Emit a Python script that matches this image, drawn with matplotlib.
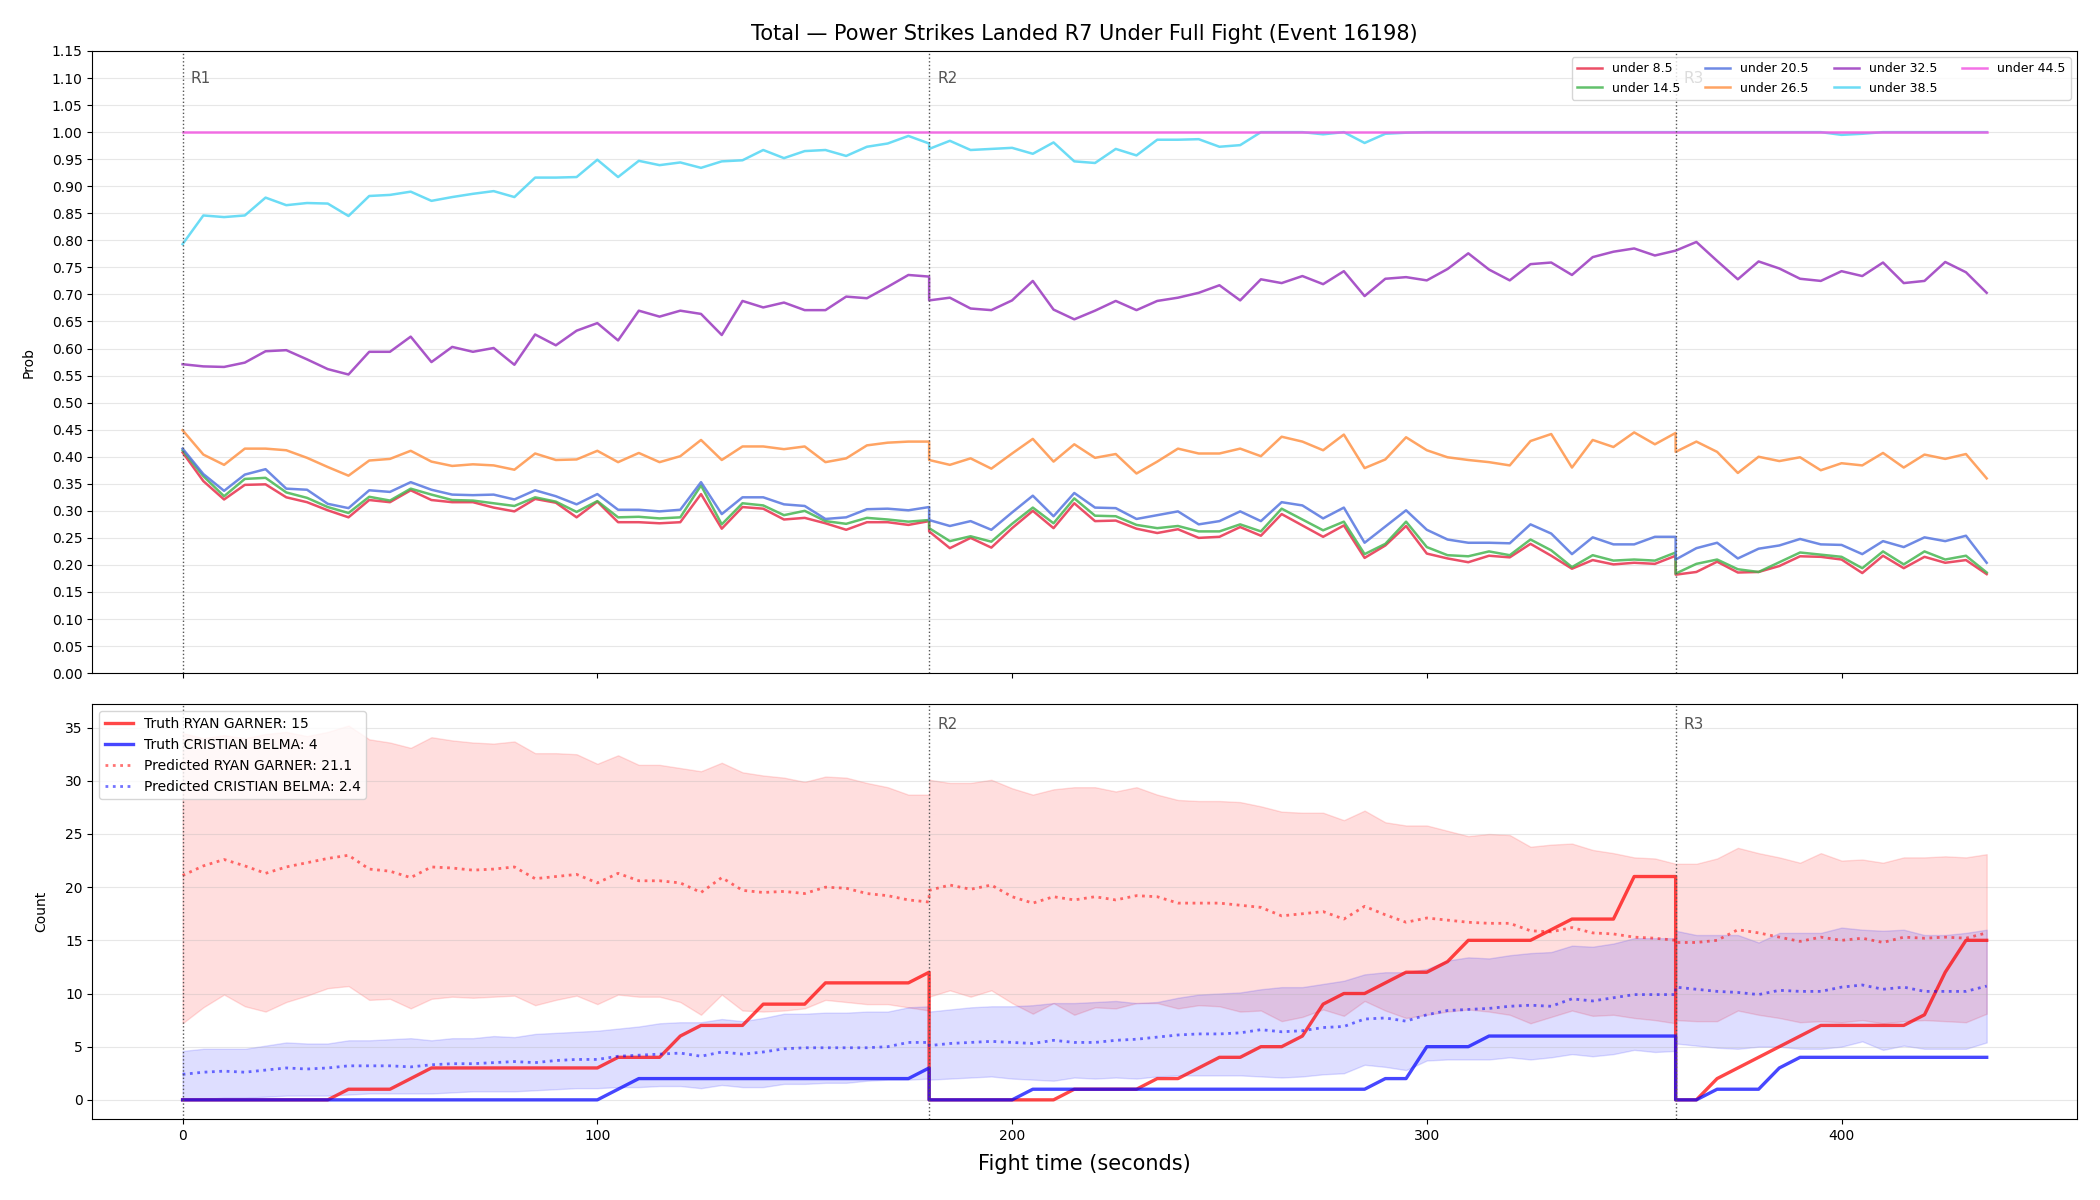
"""Power strikes landed: line probabilities and live count predictions."""

import matplotlib.pyplot as plt
import numpy as np
from matplotlib.ticker import FormatStrFormatter

# Sample times per round (every 5 s, round ends repeat at 180 / 360)
T_R1 = np.arange(0, 181, 5)
T_R2 = np.arange(180, 361, 5)
T_R3 = np.arange(360, 436, 5)
TIME = np.concatenate([T_R1, T_R2, T_R3])

ROUND_STARTS = [0, 180, 360]
ROUND_LABELS = ["R1", "R2", "R3"]

LINE_LABELS = ["under 8.5", "under 14.5", "under 20.5", "under 26.5",
               "under 32.5", "under 38.5", "under 44.5"]
LINE_COLORS = ["#e8304c", "#46b652", "#5676e0", "#ff9448",
               "#9a38bf", "#52d6f4", "#f258e2"]

under_8_5 = [
    0.408, 0.355, 0.321, 0.348, 0.349, 0.325, 0.316, 0.301, 0.288, 0.320, 0.316, 0.338, 0.320,
    0.316, 0.316, 0.306, 0.299, 0.322, 0.315, 0.288, 0.317, 0.279, 0.279, 0.277, 0.279, 0.331,
    0.267, 0.307, 0.304, 0.284, 0.287, 0.277, 0.265, 0.279, 0.279, 0.274, 0.281,
    0.262, 0.231, 0.250, 0.232, 0.268, 0.300, 0.268, 0.314, 0.281, 0.282, 0.267, 0.259, 0.266,
    0.250, 0.252, 0.270, 0.254, 0.294, 0.273, 0.252, 0.273, 0.213, 0.236, 0.272, 0.221, 0.212,
    0.205, 0.217, 0.214, 0.239, 0.217, 0.193, 0.209, 0.201, 0.204, 0.202, 0.217,
    0.182, 0.187, 0.206, 0.186, 0.187, 0.198, 0.216, 0.215, 0.210, 0.185, 0.217, 0.194, 0.215,
    0.204, 0.209, 0.183,
]
under_14_5 = [
    0.412, 0.364, 0.327, 0.359, 0.361, 0.334, 0.324, 0.307, 0.296, 0.326, 0.319, 0.341, 0.330,
    0.320, 0.319, 0.314, 0.309, 0.325, 0.317, 0.298, 0.318, 0.288, 0.289, 0.286, 0.288, 0.347,
    0.275, 0.314, 0.310, 0.292, 0.300, 0.281, 0.276, 0.287, 0.284, 0.280, 0.283,
    0.268, 0.244, 0.253, 0.243, 0.276, 0.306, 0.277, 0.323, 0.291, 0.290, 0.274, 0.268, 0.272,
    0.262, 0.262, 0.275, 0.262, 0.304, 0.284, 0.264, 0.280, 0.220, 0.239, 0.280, 0.233, 0.218,
    0.216, 0.225, 0.218, 0.247, 0.227, 0.196, 0.218, 0.208, 0.210, 0.208, 0.223,
    0.184, 0.202, 0.210, 0.192, 0.187, 0.205, 0.223, 0.219, 0.215, 0.194, 0.225, 0.201, 0.225,
    0.210, 0.217, 0.186,
]
under_20_5 = [
    0.415, 0.368, 0.337, 0.367, 0.377, 0.341, 0.339, 0.313, 0.305, 0.338, 0.335, 0.353, 0.339,
    0.330, 0.329, 0.330, 0.321, 0.338, 0.327, 0.312, 0.331, 0.302, 0.302, 0.299, 0.302, 0.353,
    0.294, 0.325, 0.325, 0.312, 0.309, 0.285, 0.288, 0.303, 0.304, 0.301, 0.307,
    0.283, 0.272, 0.281, 0.265, 0.297, 0.328, 0.290, 0.333, 0.306, 0.305, 0.285, 0.292, 0.299,
    0.275, 0.281, 0.299, 0.281, 0.316, 0.310, 0.286, 0.306, 0.241, 0.271, 0.301, 0.265, 0.247,
    0.241, 0.241, 0.240, 0.275, 0.258, 0.220, 0.251, 0.238, 0.238, 0.252, 0.252,
    0.210, 0.231, 0.241, 0.212, 0.230, 0.236, 0.248, 0.238, 0.237, 0.220, 0.244, 0.233, 0.251,
    0.244, 0.254, 0.204,
]
under_26_5 = [
    0.449, 0.404, 0.385, 0.415, 0.415, 0.412, 0.398, 0.381, 0.365, 0.393, 0.396, 0.411, 0.391,
    0.383, 0.386, 0.384, 0.376, 0.406, 0.394, 0.395, 0.411, 0.390, 0.407, 0.390, 0.401, 0.431,
    0.394, 0.419, 0.419, 0.414, 0.419, 0.390, 0.397, 0.421, 0.426, 0.428, 0.428,
    0.394, 0.385, 0.397, 0.378, 0.406, 0.433, 0.391, 0.423, 0.398, 0.405, 0.369, 0.391, 0.415,
    0.406, 0.406, 0.415, 0.401, 0.437, 0.428, 0.412, 0.441, 0.379, 0.395, 0.436, 0.412, 0.399,
    0.394, 0.390, 0.384, 0.429, 0.442, 0.380, 0.431, 0.418, 0.445, 0.423, 0.444,
    0.409, 0.428, 0.409, 0.370, 0.400, 0.392, 0.399, 0.375, 0.388, 0.384, 0.407, 0.380, 0.404,
    0.396, 0.405, 0.360,
]
under_32_5 = [
    0.571, 0.567, 0.566, 0.574, 0.595, 0.597, 0.580, 0.562, 0.552, 0.594, 0.594, 0.622, 0.575,
    0.603, 0.594, 0.601, 0.570, 0.626, 0.606, 0.633, 0.647, 0.615, 0.670, 0.659, 0.670, 0.664,
    0.625, 0.688, 0.676, 0.685, 0.671, 0.671, 0.696, 0.693, 0.714, 0.736, 0.733,
    0.689, 0.694, 0.674, 0.671, 0.689, 0.725, 0.672, 0.654, 0.670, 0.688, 0.671, 0.688, 0.694,
    0.703, 0.717, 0.689, 0.728, 0.721, 0.734, 0.719, 0.743, 0.697, 0.729, 0.732, 0.726, 0.747,
    0.776, 0.746, 0.726, 0.756, 0.759, 0.736, 0.769, 0.779, 0.785, 0.772, 0.781,
    0.781, 0.797, 0.762, 0.728, 0.761, 0.748, 0.729, 0.725, 0.743, 0.734, 0.759, 0.721, 0.725,
    0.760, 0.741, 0.703,
]
under_38_5 = [
    0.793, 0.846, 0.843, 0.846, 0.879, 0.865, 0.869, 0.868, 0.845, 0.882, 0.884, 0.890, 0.873,
    0.880, 0.886, 0.891, 0.880, 0.916, 0.916, 0.917, 0.949, 0.917, 0.947, 0.939, 0.944, 0.934,
    0.946, 0.948, 0.967, 0.952, 0.965, 0.967, 0.956, 0.973, 0.979, 0.993, 0.979,
    0.969, 0.984, 0.967, 0.969, 0.971, 0.960, 0.981, 0.946, 0.943, 0.969, 0.957, 0.986, 0.986,
    0.987, 0.973, 0.976, 1.000, 1.000, 1.000, 0.996, 1.000, 0.980, 0.997, 0.999, 1.000, 1.000,
    1.000, 1.000, 1.000, 1.000, 1.000, 1.000, 1.000, 1.000, 1.000, 1.000, 1.000,
    1.000, 1.000, 1.000, 1.000, 1.000, 1.000, 1.000, 1.000, 0.995, 0.997, 1.000, 1.000, 1.000,
    1.000, 1.000, 1.000,
]
under_44_5 = [1.0] * 90

# Live count panel
truth_garner = [
    0, 0, 0, 0, 0, 0, 0, 0, 1, 1, 1, 2, 3, 3, 3, 3, 3, 3, 3, 3, 3, 4, 4, 4, 6, 7, 7, 7,
    9, 9, 9, 11, 11, 11, 11, 11, 12,
    0, 0, 0, 0, 0, 0, 0, 1, 1, 1, 1, 2, 2, 3, 4, 4, 5, 5, 6, 9, 10, 10, 11, 12, 12, 13,
    15, 15, 15, 15, 16, 17, 17, 17, 21, 21, 21,
    0, 0, 2, 3, 4, 5, 6, 7, 7, 7, 7, 7, 8, 12, 15, 15,
]
truth_belma = [
    0, 0, 0, 0, 0, 0, 0, 0, 0, 0, 0, 0, 0, 0, 0, 0, 0, 0, 0, 0, 0, 1, 2, 2, 2, 2, 2, 2,
    2, 2, 2, 2, 2, 2, 2, 2, 3,
    0, 0, 0, 0, 0, 1, 1, 1, 1, 1, 1, 1, 1, 1, 1, 1, 1, 1, 1, 1, 1, 1, 2, 2, 5, 5, 5,
    6, 6, 6, 6, 6, 6, 6, 6, 6, 6,
    0, 0, 1, 1, 1, 3, 4, 4, 4, 4, 4, 4, 4, 4, 4, 4,
]
pred_garner = [
    21.1, 22.0, 22.6, 22.0, 21.3, 21.9, 22.3, 22.7, 23.0, 21.7, 21.5, 20.9, 21.9, 21.8, 21.6,
    21.7, 21.9, 20.8, 21.0, 21.2, 20.4, 21.3, 20.6, 20.6, 20.4, 19.5, 20.9, 19.7, 19.5, 19.6,
    19.4, 20.0, 19.9, 19.4, 19.2, 18.8, 18.6,
    19.7, 20.2, 19.8, 20.2, 19.1, 18.5, 19.1, 18.8, 19.1, 18.8, 19.2, 19.1, 18.5, 18.5, 18.5,
    18.3, 18.1, 17.3, 17.5, 17.7, 17.0, 18.2, 17.4, 16.7, 17.1, 16.9, 16.7, 16.6, 16.6, 15.9,
    15.8, 16.2, 15.7, 15.6, 15.3, 15.2, 15.0,
    14.8, 14.8, 15.0, 16.0, 15.7, 15.3, 14.9, 15.3, 15.0, 15.2, 14.8, 15.3, 15.2, 15.3, 15.2,
    15.7,
]
garner_hi = [
    34.5, 34.0, 34.3, 34.0, 34.4, 34.6, 34.2, 34.6, 35.2, 33.9, 33.6, 33.1, 34.1, 33.8, 33.6,
    33.5, 33.7, 32.6, 32.6, 32.5, 31.6, 32.4, 31.5, 31.5, 31.2, 30.9, 31.7, 30.8, 30.5, 30.3,
    29.9, 30.4, 30.3, 29.8, 29.4, 28.7, 28.7,
    30.1, 29.8, 29.8, 30.1, 29.3, 28.7, 29.2, 29.4, 29.4, 29.0, 29.4, 28.7, 28.2, 28.1, 28.1,
    28.0, 27.6, 27.1, 27.0, 27.0, 26.3, 27.2, 26.1, 25.8, 25.8, 25.3, 24.8, 25.0, 24.9, 23.8,
    24.0, 24.1, 23.5, 23.2, 22.8, 22.7, 22.2,
    22.2, 22.2, 22.7, 23.7, 23.2, 22.8, 22.3, 23.2, 22.5, 22.6, 22.3, 22.8, 22.8, 22.9, 22.8,
    23.1,
]
garner_lo = [
    7.2, 8.7, 9.9, 8.8, 8.3, 9.2, 9.8, 10.5, 10.7, 9.4, 9.5, 8.6, 9.5, 9.7, 9.6, 9.7, 9.8, 8.9,
    9.4, 9.8, 9.0, 9.9, 9.7, 9.7, 9.2, 8.0, 9.9, 8.4, 8.3, 8.4, 8.6, 9.4, 9.2, 9.0, 9.0, 8.7,
    8.4,
    9.7, 10.3, 9.7, 10.3, 9.1, 8.1, 9.1, 8.0, 8.7, 8.6, 9.1, 9.1, 8.6, 8.9, 8.8, 8.3, 8.4, 7.4,
    7.8, 8.5, 7.9, 9.3, 8.4, 7.7, 8.0, 8.3, 8.5, 8.3, 8.0, 7.2, 7.8, 8.4, 7.9, 8.0, 7.7, 7.5,
    7.2,
    7.5, 7.4, 7.4, 8.4, 8.0, 7.7, 7.3, 7.4, 7.3, 7.5, 7.2, 7.4, 7.5, 7.4, 7.3, 8.1,
]
pred_belma = [
    2.4, 2.6, 2.7, 2.6, 2.8, 3.0, 2.9, 3.0, 3.2, 3.2, 3.2, 3.1, 3.3, 3.4, 3.4, 3.5, 3.6, 3.5,
    3.7, 3.8, 3.8, 4.1, 4.2, 4.3, 4.4, 4.1, 4.5, 4.3, 4.5, 4.8, 4.9, 4.9, 4.9, 4.9, 5.0, 5.4,
    5.4,
    5.1, 5.3, 5.4, 5.5, 5.4, 5.3, 5.6, 5.4, 5.4, 5.6, 5.7, 5.9, 6.1, 6.2, 6.2, 6.3, 6.6, 6.4,
    6.5, 6.8, 6.9, 7.6, 7.7, 7.4, 8.0, 8.4, 8.5, 8.6, 8.8, 8.9, 8.8, 9.5, 9.3, 9.6, 9.9, 9.9,
    9.9,
    10.6, 10.4, 10.2, 10.1, 9.9, 10.3, 10.2, 10.2, 10.6, 10.8, 10.4, 10.6, 10.2, 10.2, 10.2,
    10.7,
]
belma_hi = [
    4.6, 4.8, 4.8, 4.8, 5.1, 5.4, 5.3, 5.3, 5.6, 5.6, 5.7, 5.8, 5.6, 5.8, 5.8, 6.0, 5.9, 6.2,
    6.3, 6.4, 6.5, 6.7, 6.9, 7.2, 7.3, 7.3, 7.6, 7.4, 7.7, 8.1, 8.1, 8.2, 8.2, 8.3, 8.3, 8.7,
    8.8,
    8.3, 8.5, 8.7, 8.8, 8.8, 8.9, 9.1, 9.1, 9.2, 9.3, 9.1, 9.2, 9.6, 9.9, 10.0, 10.1, 10.4,
    10.6, 10.6, 10.9, 11.2, 11.8, 12.0, 12.0, 12.3, 13.1, 13.4, 13.3, 13.6, 13.8, 13.9, 14.5,
    14.4, 14.7, 15.2, 15.2, 15.2,
    15.9, 15.5, 15.5, 15.5, 14.8, 15.7, 15.7, 15.7, 16.2, 16.0, 15.9, 16.0, 15.5, 15.5, 15.7,
    16.0,
]
belma_lo = [
    0.1, 0.1, 0.2, 0.2, 0.3, 0.4, 0.4, 0.4, 0.5, 0.6, 0.6, 0.6, 0.6, 0.7, 0.8, 0.8, 0.8, 0.9,
    1.0, 1.1, 1.1, 1.2, 1.2, 1.3, 1.3, 1.1, 1.4, 1.2, 1.2, 1.5, 1.5, 1.6, 1.6, 1.8, 1.9, 1.9,
    2.0,
    1.9, 2.0, 2.1, 2.2, 2.0, 1.9, 1.8, 2.1, 2.0, 2.1, 2.0, 2.2, 2.3, 2.3, 2.3, 2.3, 2.2, 2.1,
    2.2, 2.4, 2.5, 3.3, 3.1, 2.8, 3.7, 3.8, 3.8, 3.8, 4.0, 3.8, 4.0, 4.3, 4.1, 4.3, 4.7, 4.5,
    4.6,
    5.3, 5.1, 4.9, 4.8, 5.0, 5.0, 4.8, 4.8, 5.0, 5.5, 4.7, 5.1, 4.8, 4.8, 4.8, 5.4,
]

ROUND_LINE = "#555555"


def _marquer_rounds(ax, y_frac, skip_first=False):
    """Dotted round boundaries with their labels."""
    trans = ax.get_xaxis_transform()
    for i, (t, lab) in enumerate(zip(ROUND_STARTS, ROUND_LABELS)):
        ax.axvline(t, color=ROUND_LINE, linestyle=":", linewidth=1)
        if skip_first and i == 0:
            continue  # hidden under the legend in the lower panel
        ax.text(t + 2, y_frac, lab, transform=trans, va="center",
                fontsize=11, color="#555555")


fig, (ax_top, ax_bot) = plt.subplots(
    2, 1, figsize=(21, 12), dpi=100, sharex=True,
    gridspec_kw={"height_ratios": [3, 2]})
fig.subplots_adjust(left=0.044, right=0.989, top=0.9575, bottom=0.0675, hspace=0.06)

# Top panel: probability of each line
series = [under_8_5, under_14_5, under_20_5, under_26_5,
          under_32_5, under_38_5, under_44_5]
for vals, lab, col in zip(series, LINE_LABELS, LINE_COLORS):
    ax_top.plot(TIME, vals, color=col, lw=1.8, alpha=0.85, label=lab)

ax_top.set_ylim(0, 1.15)
ax_top.set_yticks(np.arange(0, 1.151, 0.05))
ax_top.yaxis.set_major_formatter(FormatStrFormatter("%.2f"))
ax_top.set_ylabel("Prob", labelpad=12)
ax_top.grid(axis="y", alpha=0.3)
_marquer_rounds(ax_top, 0.955)
ax_top.legend(loc="upper right", ncol=4, fontsize=9)
ax_top.set_title("Total — Power Strikes Landed R7 Under Full Fight (Event 16198)",
                 fontsize=15, pad=8)

# Bottom panel: truth vs predicted counts
ax_bot.fill_between(TIME, garner_lo, garner_hi, color="red", alpha=0.13)
ax_bot.fill_between(TIME, belma_lo, belma_hi, color="blue", alpha=0.13)
ax_bot.plot(TIME, truth_garner, color="red", lw=2.4, alpha=0.72,
            label="Truth RYAN GARNER: 15")
ax_bot.plot(TIME, truth_belma, color="blue", lw=2.4, alpha=0.72,
            label="Truth CRISTIAN BELMA: 4")
ax_bot.plot(TIME, pred_garner, color="red", lw=2, linestyle=":", alpha=0.55,
            label="Predicted RYAN GARNER: 21.1")
ax_bot.plot(TIME, pred_belma, color="blue", lw=2, linestyle=":", alpha=0.55,
            label="Predicted CRISTIAN BELMA: 2.4")

ax_bot.set_ylim(-1.8, 37.2)
ax_bot.set_yticks(np.arange(0, 36, 5))
ax_bot.set_ylabel("Count", labelpad=12)
ax_bot.set_xlim(-21.75, 456.75)
ax_bot.set_xticks([0, 100, 200, 300, 400])
ax_bot.set_xlabel("Fight time (seconds)", fontsize=15, labelpad=8)
ax_bot.grid(axis="y", alpha=0.3)
_marquer_rounds(ax_bot, 0.952, skip_first=True)
ax_bot.legend(loc="upper left", fontsize=10)

fig.savefig("out.png", dpi=100)
